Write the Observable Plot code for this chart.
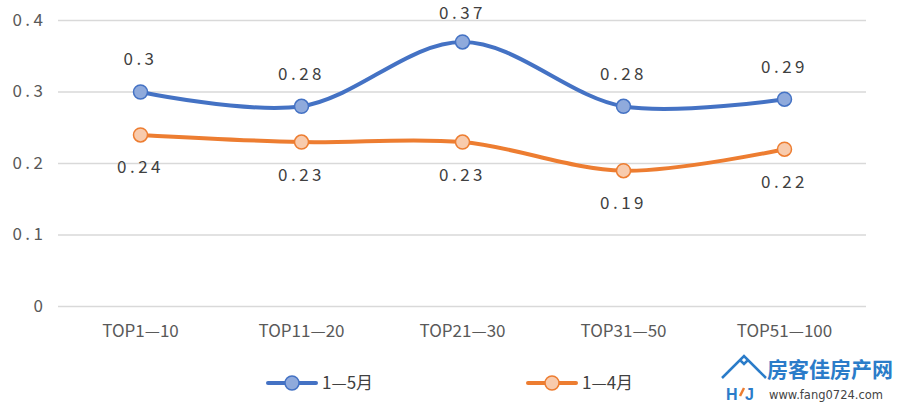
<!DOCTYPE html>
<html>
<head>
<meta charset="utf-8">
<script src="https://cdn.jsdelivr.net/npm/d3@7"></script>
<script src="https://cdn.jsdelivr.net/npm/@observablehq/plot@0.6"></script>
<style>
  html, body { margin: 0; padding: 0; background: #fff; }
  #wrap { position: relative; width: 902px; height: 404px; overflow: hidden; font-family: "Noto Sans CJK SC", "Noto Sans", sans-serif; }
  .spaced text { letter-spacing: 3.5px; }
  #legend { position: absolute; left: 0; top: 368px; }
  #mark { position: absolute; left: 718px; top: 352px; }
</style>
</head>
<body>
<div id="wrap"></div>
<script>
const categories = ["TOP1—10", "TOP11—20", "TOP21—30", "TOP31—50", "TOP51—100"];
const seriesNames = ["1—5月", "1—4月"];
const jan_may = [0.30, 0.28, 0.37, 0.28, 0.29];
const jan_apr = [0.24, 0.23, 0.23, 0.19, 0.22];
const yTicks = [0, 0.1, 0.2, 0.3, 0.4];

const colors = {line: ["#4472C4", "#ED7D31"], fill: ["#8FAADC", "#F8CBAD"]};

const rowsA = categories.map((c, i) => ({cat: c, v: jan_may[i]}));
const rowsB = categories.map((c, i) => ({cat: c, v: jan_apr[i]}));

const font = '"Noto Sans CJK SC", "Noto Sans", sans-serif';
const labelCeil = 0.365; // keep top labels inside the frame

const chart = Plot.plot({
  width: 902,
  height: 404,
  marginTop: 20,
  marginBottom: 98,
  marginLeft: 58,
  marginRight: 36,
  style: {fontFamily: font, fontSize: "16px", color: "#595959", background: "#fff"},
  x: {type: "point", domain: categories, padding: 0.5},
  y: {domain: [0, 0.4]},
  marks: [
    Plot.ruleY(yTicks, {stroke: "#d9d9d9", strokeWidth: 1.5}),
    Plot.axisY(yTicks, {tickSize: 0, tickPadding: 12, tickFormat: d => d === 0 ? "0" : String(d), fontSize: 17, fill: "#595959", className: "spaced", label: null}),
    Plot.axisX({tickSize: 0, tickPadding: 18, fontSize: 17, fill: "#595959", label: null}),
    Plot.line(rowsB, {x: "cat", y: "v", stroke: colors.line[1], strokeWidth: 4, curve: "catmull-rom"}),
    Plot.line(rowsA, {x: "cat", y: "v", stroke: colors.line[0], strokeWidth: 4, curve: "catmull-rom"}),
    Plot.dot(rowsB, {x: "cat", y: "v", r: 7, fill: colors.fill[1], stroke: colors.line[1], strokeWidth: 1.5}),
    Plot.dot(rowsA, {x: "cat", y: "v", r: 7, fill: colors.fill[0], stroke: colors.line[0], strokeWidth: 1.5}),
    Plot.text(rowsA, {x: "cat", y: d => Math.min(d.v, labelCeil), text: d => String(d.v), dy: -32, fontSize: 17, fill: "#404040", className: "spaced"}),
    Plot.text(rowsB, {x: "cat", y: "v", text: d => String(d.v), dy: 33, fontSize: 17, fill: "#404040", className: "spaced"})
  ]
});
document.getElementById("wrap").appendChild(chart);

// legend
const lg = d3.select("#wrap").append("svg").attr("id", "legend").attr("width", 700).attr("height", 30);
const legendX = [268, 528];
seriesNames.forEach((name, i) => {
  const g = lg.append("g").attr("transform", `translate(${legendX[i]},15)`);
  g.append("line").attr("x1", 0).attr("x2", 48).attr("y1", 0).attr("y2", 0)
    .attr("stroke", colors.line[i]).attr("stroke-width", 4).attr("stroke-linecap", "round");
  g.append("circle").attr("cx", 24).attr("cy", 0).attr("r", 7)
    .attr("fill", colors.fill[i]).attr("stroke", colors.line[i]).attr("stroke-width", 1.5);
  g.append("text").attr("x", 54).attr("y", 0).attr("dy", "0.35em")
    .attr("font-family", font).attr("font-size", 17).attr("fill", "#404040").text(name);
});

// watermark
const wm = d3.select("#wrap").append("svg").attr("id", "mark").attr("width", 184).attr("height", 52);
wm.append("path").attr("d", "M4,26 L22,8 L26,12 L30,8 L48,26 M10,20 L26,4 L42,20")
  .attr("fill", "none").attr("stroke", "#2b7cc9").attr("stroke-width", 2.5);
wm.append("text").attr("x", 8).attr("y", 48).attr("font-family", "Liberation Sans, sans-serif")
  .attr("font-weight", "bold").attr("font-size", 16).attr("fill", "#2b7cc9").text("H");
wm.append("text").attr("x", 27).attr("y", 48).attr("font-family", "Liberation Sans, sans-serif")
  .attr("font-weight", "bold").attr("font-size", 16).attr("fill", "#2b7cc9").text("J");
wm.append("path").attr("d", "M22,44 L26,36").attr("stroke", "#ED7D31").attr("stroke-width", 2.5);
wm.append("text").attr("x", 49).attr("y", 25).attr("font-family", font)
  .attr("font-weight", "bold").attr("font-size", 21).attr("fill", "#2b7cc9").text("房客佳房产网");
wm.append("text").attr("x", 51).attr("y", 47).attr("font-family", "DejaVu Sans, sans-serif")
  .attr("font-size", 11.5).attr("fill", "#444").text("www.fang0724.com");
</script>
</body>
</html>
